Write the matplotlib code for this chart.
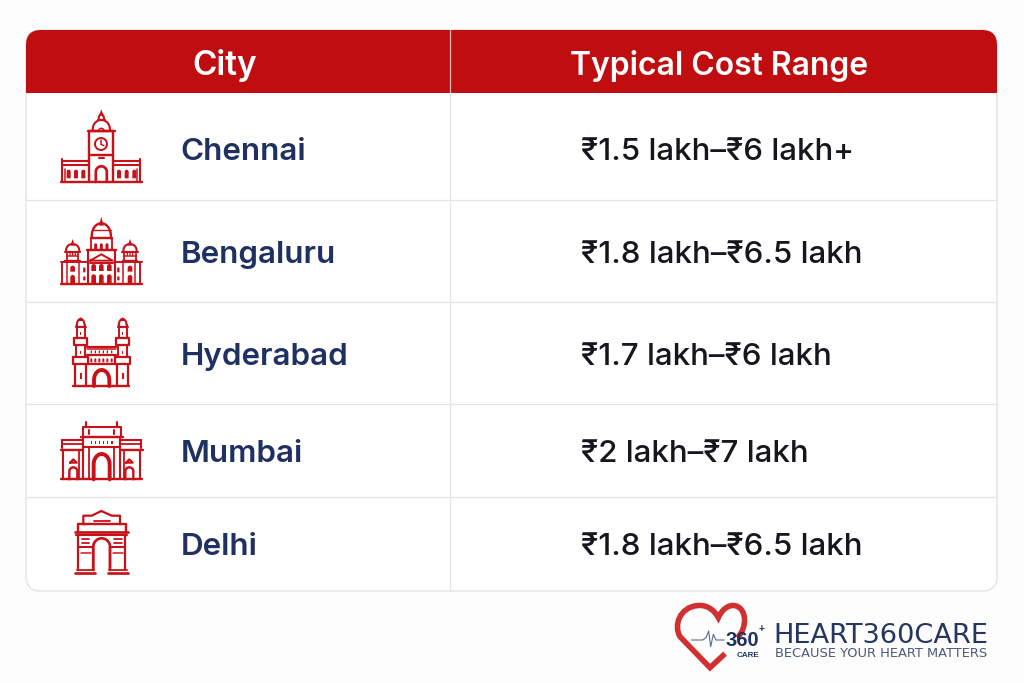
import numpy as np
import matplotlib
matplotlib.use('Agg')
import matplotlib.pyplot as plt
from matplotlib.patches import FancyBboxPatch, Rectangle, Polygon, Circle, PathPatch
from matplotlib.path import Path

# table content
header_labels = ['City', 'Typical Cost Range']
cities = ['Chennai', 'Bengaluru', 'Hyderabad', 'Mumbai', 'Delhi']
cost_ranges = ['₹1.5 lakh–₹6 lakh+', '₹1.8 lakh–₹6.5 lakh', '₹1.7 lakh–₹6 lakh',
               '₹2 lakh–₹7 lakh', '₹1.8 lakh–₹6.5 lakh']

brand_name = 'HEART360CARE'
brand_tag = 'BECAUSE YOUR HEART MATTERS'

RED = '#c00d10'
ICON = '#c8121a'
NAVY = '#1f3160'
INK = '#16161c'
RULE = '#e4e4e4'

plt.rcParams['font.family'] = ['Inter', 'DejaVu Sans']

fig = plt.figure(figsize=(10.24, 6.83), dpi=100, facecolor='#fdfdfd')
ax = fig.add_axes([0, 0, 1, 1])
ax.set_xlim(0, 1024)
ax.set_ylim(683, 0)
ax.axis('off')

# table box and header
box = FancyBboxPatch((26, 30), 971, 561, boxstyle='round,pad=0,rounding_size=15',
                     fc='white', ec=RULE, lw=1.0, zorder=1)
ax.add_patch(box)
head = Rectangle((26, 30), 971, 63, fc=RED, ec='none', zorder=2)
ax.add_patch(head)
head.set_clip_path(box)

ax.plot([450, 450], [30, 93], color='#e9b9b9', lw=0.9, zorder=3)
ax.plot([450, 450], [93, 591], color=RULE, lw=0.9, zorder=3)
for y in [200, 302, 404, 497]:
    ax.plot([26, 997], [y, y], color=RULE, lw=0.9, zorder=3)

ax.text(225, 75, header_labels[0], color='white', fontsize=24, fontweight='semibold',
        ha='center', va='baseline', zorder=4)
ax.text(719, 75, header_labels[1], color='white', fontsize=23, fontweight='semibold',
        ha='center', va='baseline', zorder=4)

baselines = [160, 263, 365, 462, 555]
for name, cost, y in zip(cities, cost_ranges, baselines):
    ax.text(180.5, y, name, color=NAVY, fontsize=22.6, fontweight='semibold', ha='left', va='baseline', zorder=4)
    ax.text(581, y, cost, color=INK, fontsize=22.5, fontweight='medium', ha='left', va='baseline', zorder=4)


# icon helpers, coordinates are in zoomed crop units (3x) from an origin
def line(o, pts, lw=1.4):
    xs = [o[0] + p[0] / 3 for p in pts]
    ys = [o[1] + p[1] / 3 for p in pts]
    ax.plot(xs, ys, color=ICON, lw=lw * 1.08, solid_capstyle='round', solid_joinstyle='round', zorder=5)


def both(o, cx, pts, lw=1.4):
    line(o, pts, lw)
    line(o, [(2 * cx - p[0], p[1]) for p in pts], lw)


def arch(o, cx, w, top, bottom, lw=1.4, pointed=0.0):
    # arch outline, half circle on two legs
    t = np.linspace(np.pi, 0, 25)
    h = w * (0.5 + pointed)
    pts = [(cx - w / 2, bottom)] + [(cx + w / 2 * np.cos(a), top + h - h * np.sin(a)) for a in t] + [(cx + w / 2, bottom)]
    line(o, pts, lw)


def fill_arch(o, cx, w, top, bottom):
    t = np.linspace(np.pi, 0, 15)
    pts = [(cx - w / 2, bottom)] + [(cx + w / 2 * np.cos(a), top + w / 2 - w / 2 * np.sin(a)) for a in t] + [(cx + w / 2, bottom)]
    ax.add_patch(Polygon([(o[0] + p[0] / 3, o[1] + p[1] / 3) for p in pts], fc=ICON, ec='none', zorder=5))


def dome(o, cx, w, top, base, lw=1.4):
    t = np.linspace(np.pi, 0, 25)
    pts = [(cx + w / 2 * np.cos(a), base - (base - top) * np.sin(a) ** 0.8) for a in t]
    line(o, pts, lw)
    line(o, [(cx - w / 2 - 3, base), (cx + w / 2 + 3, base)], lw)


def spire(o, cx, top, base, lw=1.4):
    ax.add_patch(Polygon([(o[0] + (cx - 7) / 3, o[1] + base / 3), (o[0] + cx / 3, o[1] + top / 3),
                          (o[0] + (cx + 7) / 3, o[1] + base / 3)], fc=ICON, ec='none', zorder=5))


# Chennai
o = (30, 95)
c = 214
line(o, [(93, 261), (337, 261)], 1.6)
both(o, c, [(97, 261), (97, 192)])
both(o, c, [(97, 197), (177, 197)])
both(o, c, [(97, 211), (177, 211)])
both(o, c, [(106, 261), (106, 222)], 1.0)
line(o, [(177, 261), (177, 108), (250, 108), (250, 261)], 1.6)
line(o, [(177, 180), (250, 180)], 1.6)
line(o, [(173, 108), (254, 108)], 1.6)
ax.add_patch(Circle((o[0] + 213 / 3, o[1] + 147 / 3), 18 / 3, fc='none', ec=ICON, lw=1.4, zorder=5))
line(o, [(213, 135), (213, 148), (222, 152)], 1.0)
dome(o, c, 52, 75, 108)
arch(o, c, 16, 100, 108, 1.0)
dome(o, c, 16, 58, 75)
spire(o, c, 43, 62)
arch(o, c, 33, 214, 261, 1.8)
line(o, [(207, 190), (212, 190)], 1.4)
line(o, [(216, 190), (221, 190)], 1.4)
for cx in [116, 138, 160, 267, 290, 313]:
    fill_arch(o, cx, 12, 224, 250)

# Bengaluru
c = 214
line(o, [(93, 568), (337, 568)], 1.6)
both(o, c, [(97, 568), (97, 500), (175, 500)], 1.3)
both(o, c, [(93, 500), (112, 500)], 1.3)
both(o, c, [(112, 568), (112, 500)], 1.0)
both(o, c, [(148, 568), (148, 500)], 1.0)
line(o, [(175, 568), (175, 465), (254, 465), (254, 568)], 1.4)
line(o, [(170, 465), (258, 465)], 1.6)
line(o, [(182, 430), (182, 465)], 1.2)
line(o, [(246, 430), (246, 465)], 1.2)
dome(o, c, 58, 385, 430, 1.6)
line(o, [(185, 405), (243, 405)], 0.9)
spire(o, c, 365, 392)
for cx in [197, 214, 231]:
    fill_arch(o, cx, 9, 445, 462)
line(o, [(180, 497), (214, 478), (248, 497), (180, 497)], 1.3)
line(o, [(180, 503), (248, 503)], 1.3)
for cx in [191, 214, 238]:
    fill_arch(o, cx, 14, 507, 528)
    fill_arch(o, cx, 14, 538, 568)
for cx in [128, 300]:
    dome(o, cx, 40, 447, 470, 1.4)
    spire(o, cx, 432, 452)
    line(o, [(cx - 17, 470), (cx - 17, 498)], 1.2)
    line(o, [(cx + 17, 470), (cx + 17, 498)], 1.2)
    line(o, [(cx - 22, 498), (cx + 22, 498)], 1.6)
    line(o, [(cx - 17, 482), (cx + 17, 482)], 1.0)
    for d in [-8, 0, 8]:
        fill_arch(o, cx + d, 4, 473, 482)
    fill_arch(o, cx, 14, 512, 530)
    fill_arch(o, cx, 14, 540, 568)
for cx in [163, 265]:
    fill_arch(o, cx, 7, 517, 532)
    fill_arch(o, cx, 7, 544, 556)

# Hyderabad
o = (30, 305)
c = 215
line(o, [(130, 243), (298, 243)], 1.6)
for cx in [152, 278]:
    line(o, [(cx - 16, 243), (cx - 16, 180)], 1.5)
    line(o, [(cx + 16, 243), (cx + 16, 180)], 1.5)
    line(o, [(cx - 22, 156), (cx + 22, 156), (cx + 22, 178), (cx - 22, 178), (cx - 22, 156)], 1.5)
    line(o, [(cx - 14, 156), (cx - 14, 120)], 1.3)
    line(o, [(cx + 14, 156), (cx + 14, 120)], 1.3)
    line(o, [(cx - 19, 100), (cx + 19, 100), (cx + 19, 120), (cx - 19, 120), (cx - 19, 100)], 1.5)
    line(o, [(cx - 12, 100), (cx - 12, 60)], 1.3)
    line(o, [(cx + 12, 100), (cx + 12, 60)], 1.3)
    dome(o, cx, 24, 42, 66, 1.4)
    spire(o, cx, 36, 48)
    ax.add_patch(Rectangle((o[0] + (cx - 2) / 3, o[1] + 80 / 3), 4 / 3, 11 / 3, fc=ICON, zorder=5))
    ax.add_patch(Rectangle((o[0] + (cx - 2) / 3, o[1] + 138 / 3), 4 / 3, 10 / 3, fc=ICON, zorder=5))
    ax.add_patch(Rectangle((o[0] + (cx - 3) / 3, o[1] + 205 / 3), 6 / 3, 16 / 3, fc=ICON, zorder=5))
line(o, [(172, 125), (258, 125)], 1.5)
line(o, [(172, 131), (258, 131)], 1.0)
line(o, [(172, 150), (258, 150)], 1.5)
line(o, [(172, 178), (258, 178)], 1.5)
for cx in [184, 196, 208, 220, 232, 245]:
    fill_arch(o, cx, 4, 136, 145)
    fill_arch(o, cx, 6, 160, 172)
arch(o, c, 46, 195, 243, 2.6, pointed=0.15)

# Mumbai
line(o, [(93, 523), (337, 523)], 1.6)
both(o, c, [(168, 367), (168, 350)], 1.4)
line(o, [(158, 395), (158, 367), (272, 367), (272, 395)], 1.4)
line(o, [(152, 395), (278, 395)], 1.6)
for cx in [178, 252]:
    line(o, [(cx, 376), (cx, 386)], 1.4)
line(o, [(160, 395), (160, 523)], 1.4)
line(o, [(270, 395), (270, 523)], 1.4)
line(o, [(160, 425), (270, 425)], 1.4)
for cx in [185, 197, 209, 221, 233, 246]:
    ax.add_patch(Rectangle((o[0] + (cx - 2) / 3, o[1] + 407 / 3), 4 / 3, 11 / 3, fc=ICON, zorder=5))
both(o, c, [(178, 425), (178, 523)], 1.2)
arch(o, c, 48, 447, 523, 2.6, pointed=0.15)
both(o, c, [(97, 405), (158, 405)], 1.4)
both(o, c, [(97, 405), (97, 430)], 1.4)
both(o, c, [(97, 416), (158, 416)], 1.2)
both(o, c, [(92, 435), (158, 435)], 1.6)
both(o, c, [(100, 435), (100, 523)], 1.4)
both(o, c, [(148, 435), (148, 523)], 1.2)
for cx in [130, 298]:
    arch(o, cx, 24, 487, 523, 1.6)
    line(o, [(cx - 10, 473), (cx, 463), (cx + 10, 473), (cx - 10, 473)], 1.4)

# Delhi
line(o, [(135, 805), (195, 805)], 1.8)
line(o, [(235, 805), (295, 805)], 1.8)
line(o, [(140, 795), (192, 795)], 1.2)
line(o, [(238, 795), (290, 795)], 1.2)
both(o, c, [(145, 795), (145, 690)], 1.5)
both(o, c, [(190, 795), (190, 725)], 1.5)
arch(o, c, 50, 700, 795, 1.8)
line(o, [(135, 680), (295, 680)], 1.8)
line(o, [(138, 690), (292, 690)], 1.4)
line(o, [(143, 680), (143, 658), (287, 658), (287, 680)], 1.6)
both(o, c, [(145, 725), (190, 725)], 1.4)
both(o, c, [(155, 703), (178, 703)], 1.2)
both(o, c, [(155, 714), (178, 714)], 1.2)
line(o, [(160, 658), (160, 632), (185, 632), (214, 618), (245, 632), (270, 632), (270, 658)], 1.5)
line(o, [(192, 649), (240, 649)], 1.2)
both(o, c, [(152, 743), (182, 743)], 1.0)

# logo: heart outline
o = (660, 595)
heart_pts = [(232, 128), (262, 100), (262, 40), (225, 32), (205, 28), (185, 45), (175, 68),
             (160, 40), (135, 28), (110, 32), (60, 38), (40, 90), (60, 125), (150, 218), (195, 176)]
heart_codes = [Path.MOVETO] + [Path.CURVE4] * 12 + [Path.LINETO] * 2
ax.add_patch(PathPatch(Path([(o[0] + v[0] / 3, o[1] + v[1] / 3) for v in heart_pts], heart_codes),
                       fc='none', ec='#d0302f', lw=4.0, capstyle='butt', joinstyle='miter', zorder=5))
ecg_x = [95, 128, 138, 146, 152, 160, 168, 175, 192]
ecg_y = [135, 135, 128, 108, 155, 118, 135, 135, 135]
ax.plot([o[0] + v / 3 for v in ecg_x], [o[1] + v / 3 for v in ecg_y], color='#5a6d8c', lw=0.8, zorder=6)

logo_font = ['Liberation Sans', 'DejaVu Sans']
ax.text(o[0] + 197 / 3, o[1] + 152 / 3, '360', family=logo_font, fontweight='bold', fontsize=14.5,
        color='#1f3160', ha='left', va='baseline', zorder=7)
ax.text(o[0] + 296 / 3, o[1] + 110 / 3, '+', family=logo_font, fontweight='bold', fontsize=7.5,
        color='#1f3160', ha='left', va='baseline', zorder=7)
ax.text(o[0] + 231 / 3, o[1] + 187 / 3, 'CARE', family=logo_font, fontweight='bold', fontsize=5.8,
        color='#1f3160', ha='left', va='baseline', zorder=7)
ax.text(773.5, 643, brand_name, color='#25375f', fontsize=19.6, family=['DejaVu Sans'], ha='left', va='baseline', zorder=7)
ax.text(775, 657, brand_tag, color='#4b5a78', fontsize=9.4, family=['DejaVu Sans'], ha='left', va='baseline', zorder=7)

fig.savefig('out.png', dpi=100, facecolor=fig.get_facecolor())
